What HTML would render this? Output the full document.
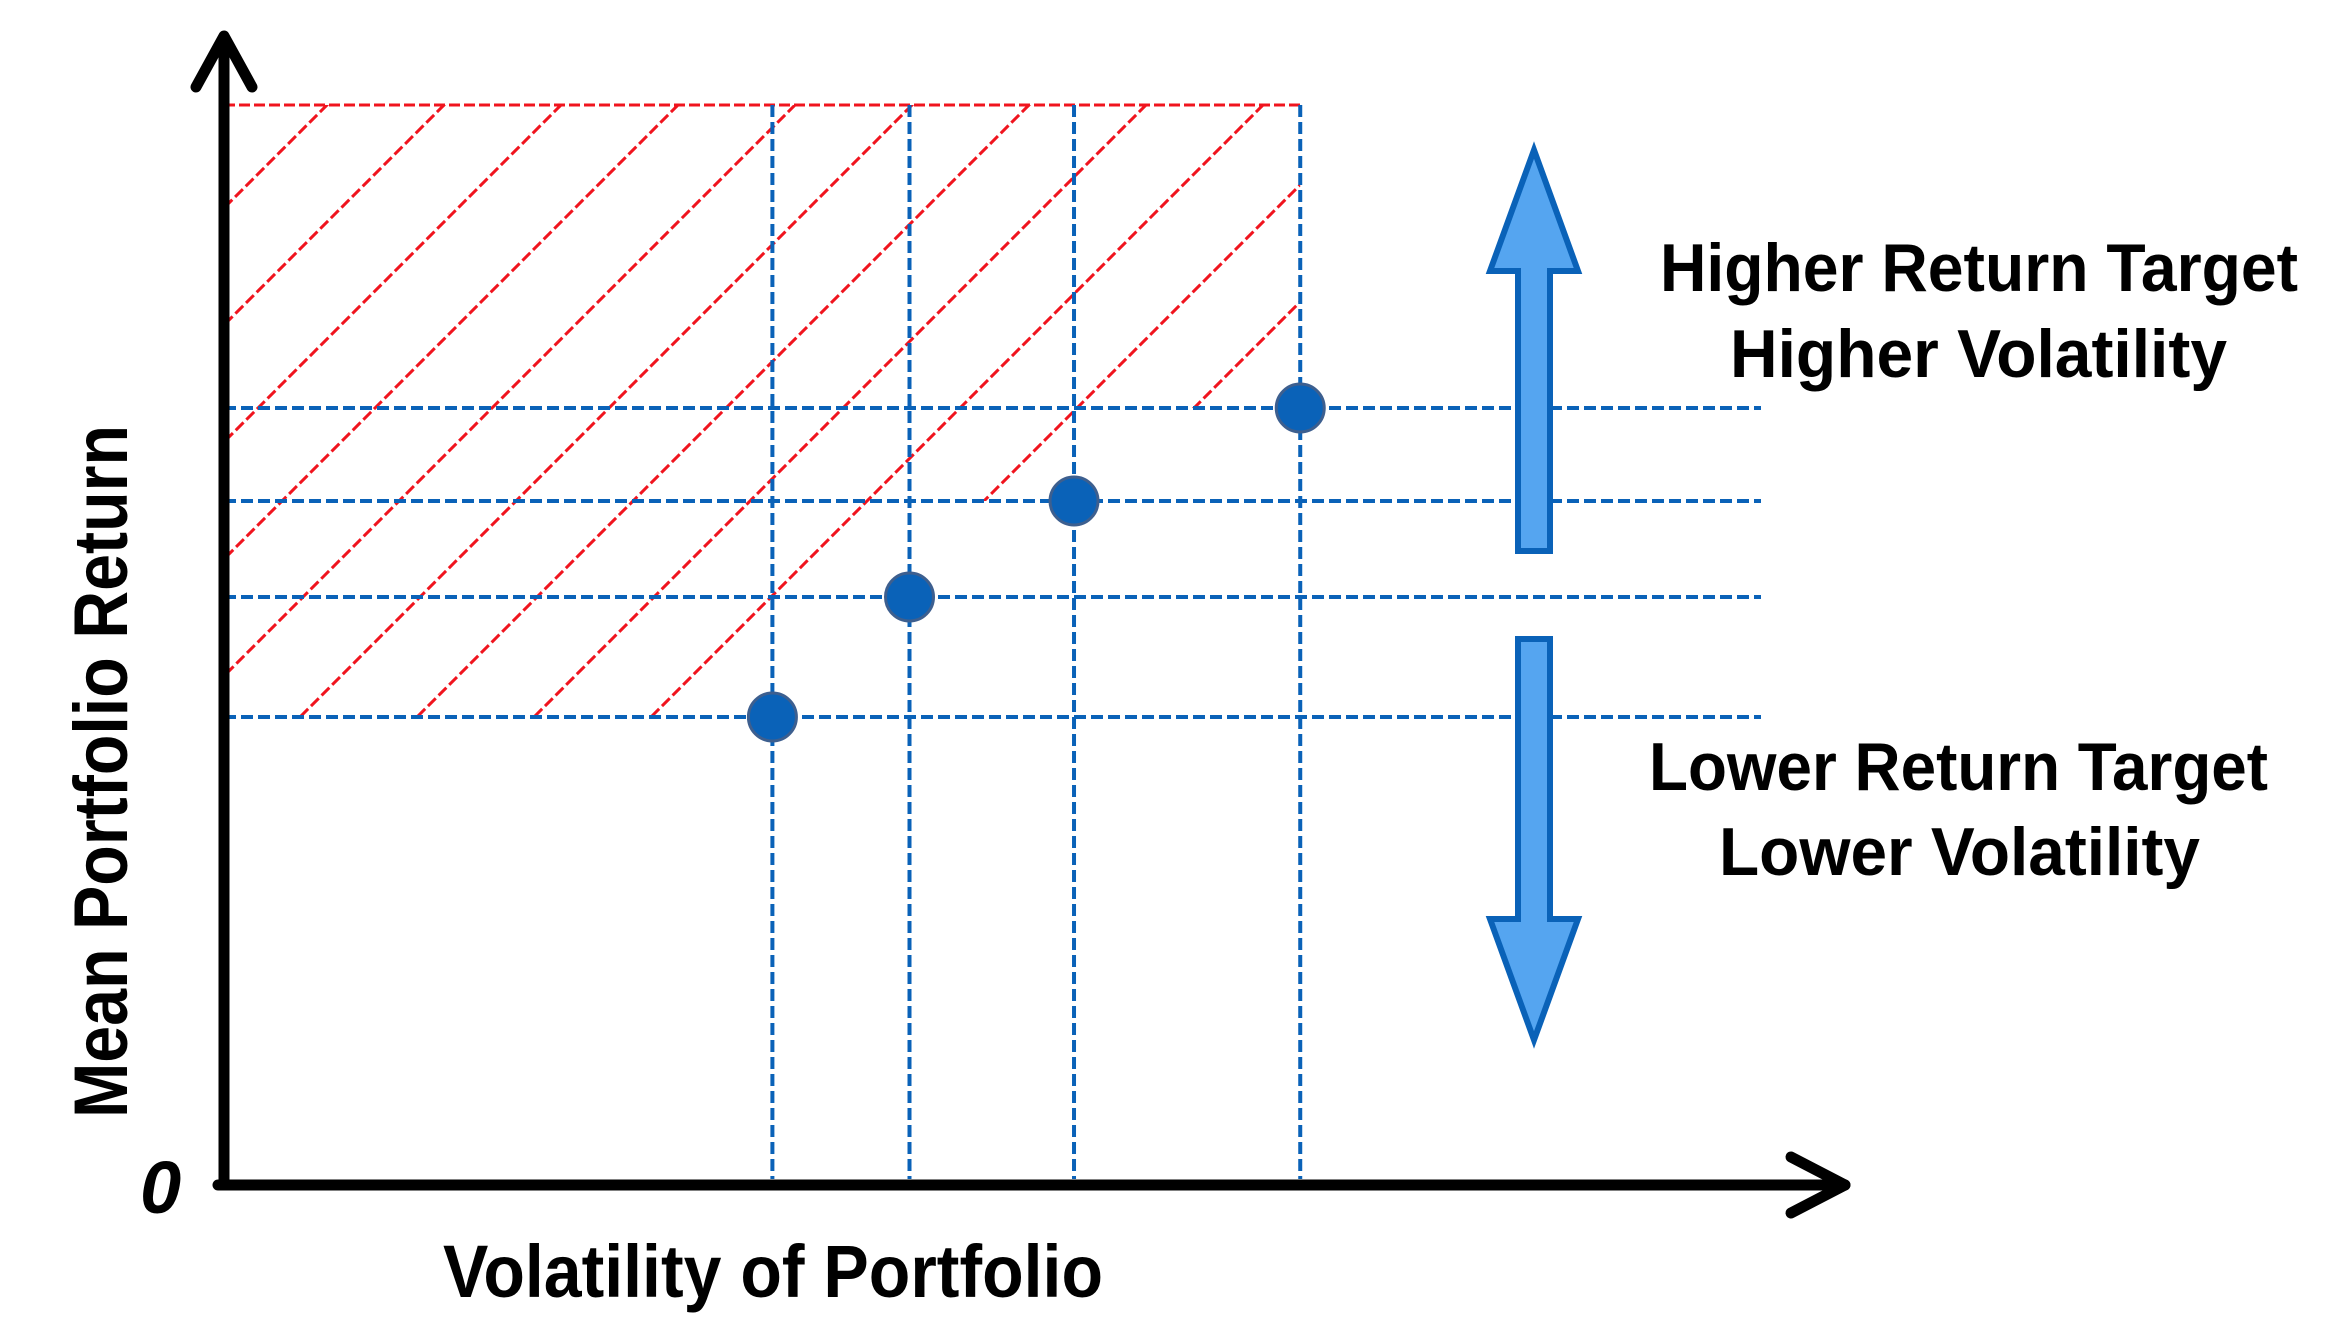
<!DOCTYPE html>
<html><head><meta charset="utf-8"><style>
html,body{margin:0;padding:0;background:#fff;}
svg{display:block;}
text{font-family:"Liberation Sans",sans-serif;font-weight:bold;fill:#000;}
</style></head><body>
<svg id="chart" width="2326" height="1318" viewBox="0 0 2326 1318" xmlns="http://www.w3.org/2000/svg">
<defs><clipPath id="hatchClip"><polygon id="hatchPoly" points=""/></clipPath></defs>
<g id="hatch" clip-path="url(#hatchClip)"></g>
<g id="grid"></g>
<g id="points"></g>
<g fill="none" stroke="#000" stroke-width="11" stroke-linecap="round" stroke-linejoin="round">
<line x1="224" y1="1185" x2="224" y2="38"/>
<polyline points="196,87 224,36 252,87"/>
<line x1="218" y1="1185" x2="1845" y2="1185"/>
<polyline points="1791,1157 1845,1185 1791,1213"/>
</g>
<text x="140" y="1213" font-size="74" font-style="italic">0</text>
<text x="443" y="1297" font-size="74" textLength="660" lengthAdjust="spacingAndGlyphs">Volatility of Portfolio</text>
<text transform="translate(127,1118) rotate(-90)" font-size="76" textLength="693" lengthAdjust="spacingAndGlyphs">Mean Portfolio Return</text>
<g fill="#55a5f0" stroke="#0a62b8" stroke-width="6">
<polygon points="1534,150 1578,271 1550,271 1550,551 1518,551 1518,271 1490,271"/>
<polygon points="1518,639 1550,639 1550,919 1578,919 1534,1040 1490,919 1518,919"/>
</g>
<text x="1660" y="291" font-size="68" textLength="638" lengthAdjust="spacingAndGlyphs">Higher Return Target</text>
<text x="1730" y="377" font-size="68" textLength="497" lengthAdjust="spacingAndGlyphs">Higher Volatility</text>
<text x="1649" y="790" font-size="68" textLength="619" lengthAdjust="spacingAndGlyphs">Lower Return Target</text>
<text x="1719" y="875" font-size="68" textLength="481" lengthAdjust="spacingAndGlyphs">Lower Volatility</text>
</svg>
<script>
const categories = ["P1","P2","P3","P4"];
const volatility = [4.0, 5.0, 6.2, 7.85];
const meanReturn = [7.7, 9.7, 11.3, 12.85];
const returnTop = [17.9];

const NS = "http://www.w3.org/2000/svg";
const X0 = 224, Y0 = 1179;
function xs(v){ return X0 + v * 137.1; }
function ys(r){ return Y0 - r * 60; }
function mk(tag, attrs, parent){
  const e = document.createElementNS(NS, tag);
  for (const k in attrs) e.setAttribute(k, attrs[k]);
  parent.appendChild(e); return e;
}
const gridG = document.getElementById('grid');
const hatchG = document.getElementById('hatch');
const ptsG = document.getElementById('points');
const yTop = ys(returnTop[0]);
const xRight = xs(volatility[volatility.length-1]);

let poly = [[X0, yTop],[xRight, yTop]];
for (let i = volatility.length-1; i >= 0; i--) {
  poly.push([xs(volatility[i]), ys(meanReturn[i])]);
  if (i > 0) poly.push([xs(volatility[i-1]), ys(meanReturn[i])]);
  else poly.push([X0, ys(meanReturn[i])]);
}
document.getElementById('hatchPoly').setAttribute('points', poly.map(p=>p.join(',')).join(' '));

for (let c = 432 - 117*4; c < 2100; c += 117) {
  const l = mk('line', {x1: c - 1300, y1: 1300, x2: c, y2: 0, stroke:'#f0141e', 'stroke-width':3, 'stroke-dasharray':'11 4'}, hatchG);
  
  
}
const topLine = mk('line', {x1:X0, y1:yTop, x2:xRight, y2:yTop, stroke:'#f0141e', 'stroke-width':3, 'stroke-dasharray':'11 4'}, gridG);



for (let i = 0; i < categories.length; i++) {
  const x = xs(volatility[i]), y = ys(meanReturn[i]);
  const v = mk('line', {x1:x, y1:yTop, x2:x, y2:Y0, stroke:'#0a62b8', 'stroke-width':4, 'stroke-dasharray':'12 5'}, gridG);
  
  
  const h = mk('line', {x1:X0, y1:y, x2:1761, y2:y, stroke:'#0a62b8', 'stroke-width':4, 'stroke-dasharray':'12 5'}, gridG);
  
  
}
for (let i = 0; i < categories.length; i++) {
  const c = mk('circle', {cx: xs(volatility[i]), cy: ys(meanReturn[i]), r: 24, fill:'#0a62b8', stroke:'#3d5f8f', 'stroke-width':3}, ptsG);
  
  
}
</script>
</body></html>
